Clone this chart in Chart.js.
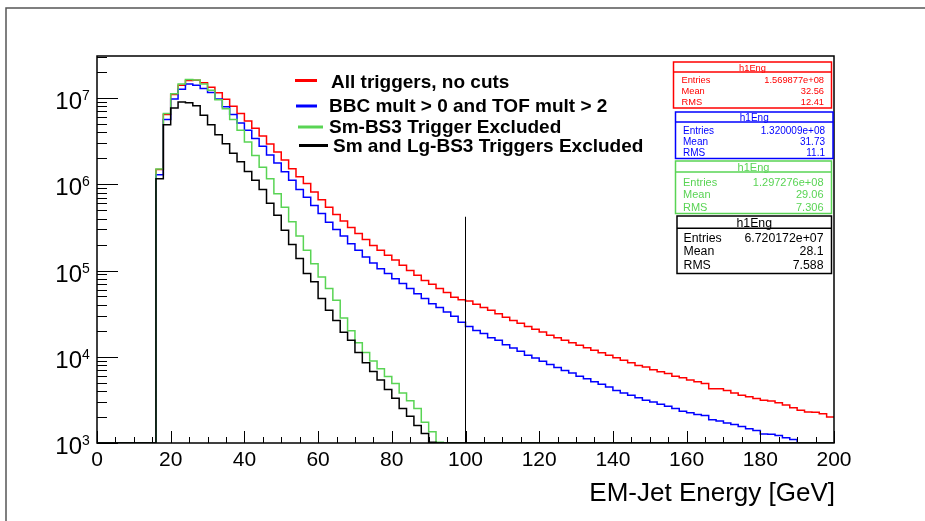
<!DOCTYPE html>
<html>
<head>
<meta charset="utf-8">
<script src="https://cdn.jsdelivr.net/npm/chart.js@4.4.1/dist/chart.umd.min.js"></script>
<style>
  html, body { margin: 0; padding: 0; background: #fff; }
  #wrap { width: 925px; height: 521px; }
</style>
</head>
<body>
<div id="wrap"><canvas id="engChart" width="925" height="521"></canvas></div>
<script>
// EM-jet energy spectra, 2 GeV bins from 0 to 200 GeV
const binWidth = 2;
const nBins = 100;
const firstEdge = 16;   // lower edge of the first filled bin
const xMin = 0;
const xMax = 200;
const yMin = 1e3;
const yMax = 3.07e7;

// counts per bin, starting at firstEdge
const allTriggers = [
  1.48e6, 6.46e6, 1.10e7, 1.41e7, 1.60e7, 1.61e7, 1.50e7, 1.33e7, 1.15e7, 9.66e6,
  8.04e6, 6.61e6, 5.43e6, 4.47e6, 3.63e6, 2.92e6, 2.37e6, 1.91e6, 1.51e6, 1.22e6,
  1.02e6, 8.13e5, 6.61e5, 5.43e5, 4.47e5, 3.76e5, 3.16e5, 2.69e5, 2.29e5, 1.95e5,
  1.72e5, 1.50e5, 1.32e5, 1.15e5, 1.00e5, 8.81e4, 7.67e4, 6.92e4, 6.17e4, 5.56e4,
  4.90e4, 4.57e4, 4.42e4, 4.07e4, 3.72e4, 3.47e4, 3.16e4, 2.88e4, 2.63e4, 2.45e4,
  2.25e4, 2.09e4, 1.94e4, 1.78e4, 1.66e4, 1.55e4, 1.45e4, 1.36e4, 1.27e4, 1.19e4,
  1.11e4, 1.04e4, 9770, 9120, 8510, 7940, 7590, 7080, 6680, 6380,
  5960, 5690, 5370, 5130, 4900, 4270, 4250, 4070, 3800, 3590,
  3430, 3270, 3130, 3070, 2920, 2750, 2570, 2400, 2290, 2270,
  2190, 2000
];
const bbcTof = [
  1.29e6, 5.62e6, 9.77e6, 1.26e7, 1.45e7, 1.41e7, 1.29e7, 1.16e7, 9.77e6, 7.94e6,
  6.46e6, 5.13e6, 4.22e6, 3.39e6, 2.75e6, 2.19e6, 1.76e6, 1.40e6, 1.11e6, 8.71e5,
  7.08e5, 5.69e5, 4.57e5, 3.63e5, 2.99e5, 2.51e5, 2.04e5, 1.72e5, 1.43e5, 1.22e5,
  1.05e5, 9.23e4, 8.04e4, 7.08e4, 6.17e4, 5.37e4, 4.73e4, 4.12e4, 3.72e4, 3.31e4,
  2.95e4, 2.51e4, 2.25e4, 2.02e4, 1.86e4, 1.66e4, 1.55e4, 1.38e4, 1.26e4, 1.16e4,
  1.04e4, 9660, 8850, 8130, 7500, 6920, 6460, 5960, 5560, 5130,
  4790, 4470, 4070, 3800, 3590, 3350, 3130, 2990, 2820, 2660,
  2510, 2340, 2240, 2140, 2090, 1860, 1800, 1700, 1640, 1550,
  1460, 1400, 1270, 1260, 1220, 1150, 1100, 950, 880, 1010,
  930, 860
];
const smExcluded = [
  1.50e6, 6.61e6, 1.12e7, 1.45e7, 1.64e7, 1.62e7, 1.45e7, 1.23e7, 9.55e6, 7.50e6,
  5.62e6, 4.22e6, 3.09e6, 2.16e6, 1.58e6, 1.16e6, 7.76e5, 5.43e5, 3.67e5, 2.51e5,
  1.72e5, 1.20e5, 8.41e4, 6.17e4, 4.52e4, 2.82e4, 2.00e4, 1.45e4, 1.12e4, 8910,
  7240, 5890, 4900, 3800, 3090, 2510, 1740, 1350, 1020
];
const smLgExcluded = [
  1.16e6, 4.90e6, 7.67e6, 9.02e6, 8.81e6, 8.13e6, 6.31e6, 4.90e6, 3.76e6, 2.95e6,
  2.29e6, 1.82e6, 1.41e6, 1.11e6, 8.71e5, 6.03e5, 4.37e5, 2.92e5, 2.00e5, 1.38e5,
  9.23e4, 7.41e4, 4.73e4, 3.47e4, 2.63e4, 1.93e4, 1.55e4, 1.12e4, 8510, 6760,
  5370, 4170, 3310, 2510, 2040, 1600, 1290, 1020
];

const seriesLabels = [
  'All triggers, no cuts',
  'BBC mult > 0 and TOF mult > 2',
  'Sm-BS3 Trigger Excluded',
  'Sm and Lg-BS3 Triggers Excluded'
];
const seriesColors = ['#ff0000', '#0000ff', '#59d454', '#000000'];

// stat box contents
const statTitle = 'h1Eng';
const statEntries = ['1.569877e+08', '1.320009e+08', '1.297276e+08', '6.720172e+07'];
const statMean = ['32.56', '31.73', '29.06', '28.1'];
const statRms = ['12.41', '11.1', '7.306', '7.588'];

const xTickLabels = ['0', '20', '40', '60', '80', '100', '120', '140', '160', '180', '200'];
const yDecades = [3, 4, 5, 6, 7];
const xTitle = 'EM-Jet Energy [GeV]';

// vertical marker at 100 GeV
const cutEnergy = 100;
const cutTop = 4.2e5;

// layout of legend and stat boxes (pixels)
const legendRows = [
  { x0: 295, x1: 317, y: 80.5, tx: 331, ty: 88 },
  { x0: 296, x1: 317, y: 106, tx: 329, ty: 111.5 },
  { x0: 298, x1: 323, y: 127, tx: 329, ty: 133 },
  { x0: 299, x1: 328, y: 145.5, tx: 333, ty: 152 }
];
const statBoxes = [
  { x0: 673.5, y0: 62, x1: 831.5, y1: 108, sep: 72, title: 67.3, rows: [80, 91, 101.7], lx: 681.5, rx: 824, font: 9.3 },
  { x0: 675.5, y0: 112, x1: 833, y1: 158.5, sep: 122, title: 117.2, rows: [130.3, 141.3, 152.3], lx: 683, rx: 825, font: 10 },
  { x0: 675.5, y0: 161, x1: 831.5, y1: 213.5, sep: 172, title: 166.8, rows: [181.7, 194.3, 207.3], lx: 683, rx: 823.5, font: 11 },
  { x0: 677, y0: 216, x1: 831.5, y1: 273.5, sep: 228.3, title: 222.2, rows: [237.7, 251, 265], lx: 683.5, rx: 823.5, font: 12.3 }
];

const fontFam = '"Liberation Sans", Arial, Helvetica, sans-serif';

// histogram as step points on bin lower edges; empty bins sit on the frame floor
function histPoints(counts) {
  const offset = firstEdge / binWidth;
  const pts = [];
  for (let i = 0; i < nBins; i++) {
    const k = i - offset;
    const v = (k >= 0 && k < counts.length) ? counts[k] : yMin;
    pts.push({ x: xMin + i * binWidth, y: v });
  }
  pts.push({ x: xMax, y: pts[pts.length - 1].y });
  return pts;
}

const datasets = [allTriggers, bbcTof, smExcluded, smLgExcluded].map((counts, i) => ({
  label: seriesLabels[i],
  data: histPoints(counts),
  borderColor: seriesColors[i],
  backgroundColor: 'transparent',
  borderWidth: 1.5,
  stepped: 'before',   // hold each bin's level until the next edge
  pointRadius: 0,
  fill: false,
  order: 4 - i
}));
datasets.push({
  label: 'cut',
  data: [{ x: cutEnergy, y: yMin }, { x: cutEnergy, y: cutTop }],
  borderColor: '#000000',
  borderWidth: 1,
  pointRadius: 0,
  fill: false,
  order: 0
});

function drawLine(ctx, x0, y0, x1, y1) {
  ctx.beginPath();
  ctx.moveTo(x0, y0);
  ctx.lineTo(x1, y1);
  ctx.stroke();
}

const rootFrame = {
  id: 'rootFrame',
  beforeDraw(chart) {
    const ctx = chart.ctx;
    ctx.save();
    ctx.fillStyle = '#ffffff';
    ctx.fillRect(0, 0, chart.width, chart.height);
    ctx.restore();
  },
  afterDraw(chart) {
    const { ctx, chartArea: a } = chart;
    const xs = chart.scales.x;
    const ys = chart.scales.y;
    ctx.save();

    // pad border
    ctx.strokeStyle = '#555555';
    ctx.lineWidth = 1.5;
    ctx.beginPath();
    ctx.moveTo(6, chart.height);
    ctx.lineTo(6, 8);
    ctx.lineTo(chart.width, 8);
    ctx.stroke();

    // frame
    ctx.strokeStyle = '#000000';
    ctx.lineWidth = 1.5;
    ctx.strokeRect(a.left, a.top, a.right - a.left, a.bottom - a.top);

    // x ticks, minor every 5 GeV
    ctx.lineWidth = 1;
    for (let v = xMin; v <= xMax; v += 5) {
      const px = Math.round(xs.getPixelForValue(v)) + 0.5;
      drawLine(ctx, px, a.bottom, px, a.bottom - (v % 20 === 0 ? 12 : 6));
    }
    // y ticks, decades and 2..9 subdivisions
    for (const d of yDecades) {
      for (let m = 1; m <= 9; m++) {
        const v = m * Math.pow(10, d);
        if (v > yMax) break;
        const py = Math.round(ys.getPixelForValue(v)) + 0.5;
        drawLine(ctx, a.left, py, a.left + (m === 1 ? 21 : 10), py);
      }
    }

    // x tick labels
    ctx.fillStyle = '#000000';
    ctx.font = '21px ' + fontFam;
    ctx.textAlign = 'center';
    ctx.textBaseline = 'alphabetic';
    xTickLabels.forEach(t => {
      ctx.fillText(t, xs.getPixelForValue(Number(t)), a.bottom + 23);
    });

    // y tick labels as 10^n
    yDecades.forEach(d => {
      const py = ys.getPixelForValue(Math.pow(10, d));
      ctx.font = '24px ' + fontFam;
      ctx.textAlign = 'right';
      ctx.fillText('10', a.left - 15, py + 11);
      ctx.font = '14px ' + fontFam;
      ctx.textAlign = 'left';
      ctx.fillText(String(d), a.left - 15, py + 2);
    });

    // axis title
    ctx.font = '26px ' + fontFam;
    ctx.textAlign = 'right';
    ctx.fillText(xTitle, a.right + 1, a.bottom + 58);

    // legend
    ctx.font = 'bold 19px ' + fontFam;
    ctx.textAlign = 'left';
    legendRows.forEach((r, i) => {
      ctx.strokeStyle = seriesColors[i];
      ctx.lineWidth = 3;
      drawLine(ctx, r.x0, r.y, r.x1, r.y);
      ctx.fillStyle = '#000000';
      ctx.fillText(seriesLabels[i], r.tx, r.ty);
    });

    // stat boxes
    statBoxes.forEach((b, i) => {
      const col = seriesColors[i];
      ctx.fillStyle = '#ffffff';
      ctx.fillRect(b.x0, b.y0, b.x1 - b.x0, b.y1 - b.y0);
      ctx.strokeStyle = col;
      ctx.lineWidth = 1.5;
      ctx.strokeRect(b.x0, b.y0, b.x1 - b.x0, b.y1 - b.y0);
      drawLine(ctx, b.x0, b.sep, b.x1, b.sep);
      ctx.fillStyle = col;
      ctx.font = b.font + 'px ' + fontFam;
      ctx.textAlign = 'center';
      ctx.fillText(statTitle, (b.x0 + b.x1) / 2, b.title + b.font * 0.36);
      const names = ['Entries', 'Mean', 'RMS'];
      const vals = [statEntries[i], statMean[i], statRms[i]];
      names.forEach((n, j) => {
        const base = b.rows[j] + b.font * 0.36;
        ctx.textAlign = 'left';
        ctx.fillText(n, b.lx, base);
        ctx.textAlign = 'right';
        ctx.fillText(vals[j], b.rx, base);
      });
    });

    ctx.restore();
  }
};

new Chart(document.getElementById('engChart'), {
  type: 'line',
  data: { datasets: datasets },
  options: {
    responsive: false,
    devicePixelRatio: 1,
    animation: false,
    layout: { padding: { left: 97, top: 56, right: 91, bottom: 78 } },
    scales: {
      x: { type: 'linear', min: xMin, max: xMax, display: false },
      y: { type: 'logarithmic', min: yMin, max: yMax, display: false }
    },
    plugins: {
      legend: { display: false },
      tooltip: { enabled: false }
    }
  },
  plugins: [rootFrame]
});
</script>
</body>
</html>
